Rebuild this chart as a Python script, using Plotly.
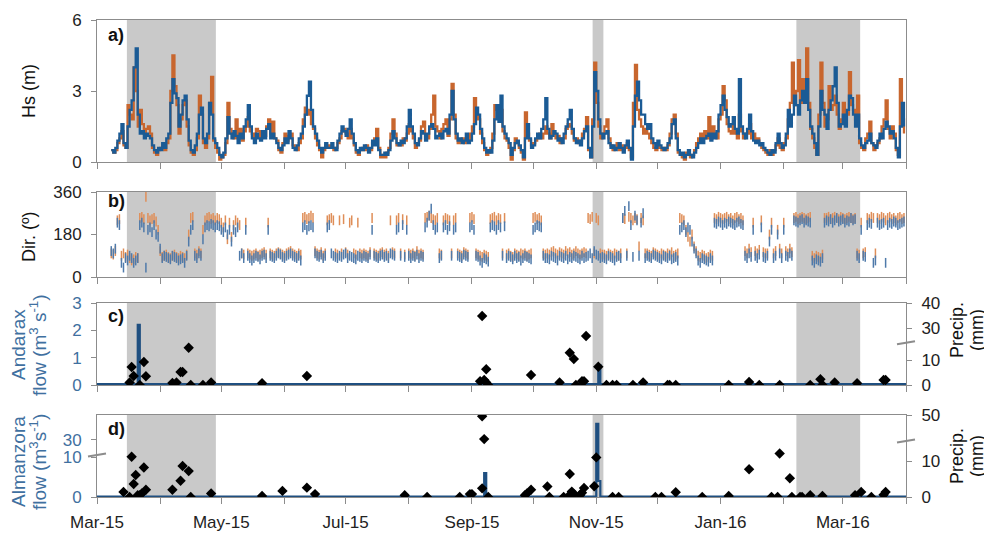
import pandas as pd
import plotly.graph_objects as go

# ---------------- DATA ----------------
HS_START = "2015-03-08"   # daily values from this date
HS_BLUE = [
    0.5, 0.4, 0.6, 0.9, 1.2, 1.6, 0.8, 0.6, 1.5, 2.2,
    2.6, 4.0, 4.8, 2.0, 1.2, 1.3, 1.0, 1.2, 1.1, 1.0,
    0.7, 0.5, 0.4, 0.6, 0.5, 0.8, 0.6, 1.0, 1.2, 2.5,
    3.5, 2.9, 2.7, 1.5, 2.0, 2.6, 2.8, 1.8, 0.9, 0.5,
    0.4, 0.7, 1.2, 2.0, 2.3, 1.0, 0.8, 1.2, 2.5, 2.0,
    1.0, 0.8, 0.6, 0.3, 0.2, 0.4, 1.0, 1.9, 1.2, 1.0,
    1.3, 1.1, 0.8, 1.2, 1.0, 1.5, 1.8, 2.4, 1.5, 1.0,
    0.8, 1.2, 1.0, 0.9, 1.3, 1.0, 1.4, 1.6, 1.0, 1.2,
    1.0, 0.8, 0.6, 0.5, 0.7, 1.0, 0.8, 1.3, 1.0, 0.6,
    0.5, 0.7, 1.0, 1.2, 1.5, 2.0, 2.8, 3.4, 2.2, 1.5,
    1.2, 0.9, 0.6, 0.4, 0.6, 0.8, 0.6, 0.6, 0.8, 0.6,
    0.5, 0.9, 1.2, 1.5, 1.3, 1.1, 1.4, 1.8, 1.2, 0.8,
    0.5, 0.4, 0.6, 0.5, 0.7, 0.6, 0.4, 0.6, 0.9, 0.7,
    1.0, 0.5, 0.3, 0.3, 0.4, 0.3, 0.5, 0.9, 1.3, 1.0,
    0.8, 0.7, 0.9, 0.8, 1.0, 1.5, 2.2, 1.5, 1.2, 0.8,
    0.7, 1.0, 1.3, 1.2, 0.9, 1.2, 1.5, 1.6, 1.4, 1.0,
    1.1, 1.2, 1.0, 1.3, 1.4, 1.2, 2.0, 3.0, 1.8, 1.2,
    0.9, 1.0, 0.8, 0.9, 1.2, 0.8, 0.9, 1.2, 1.6, 2.3,
    2.0, 1.4, 1.0, 0.6, 0.4, 0.5, 0.4, 0.9, 1.8, 2.4,
    1.7, 2.8, 1.5, 1.2, 1.0, 0.8, 0.3, 0.6, 0.8, 0.9,
    0.7, 0.5, 0.2, 1.0, 1.6, 1.0, 0.6, 0.7, 1.0, 1.2,
    1.0, 1.4, 1.8, 2.7, 1.4, 1.0, 1.1, 1.3, 1.2, 0.9,
    1.0, 0.8, 1.2, 1.5, 1.8, 2.2, 1.4, 1.0, 0.8, 0.9,
    0.7, 1.0, 1.3, 1.5, 0.6, 0.2, 1.5, 3.8, 3.0, 1.8,
    1.2, 1.0, 1.2, 1.3, 0.8, 0.6, 0.7, 0.5, 0.6, 0.8,
    0.6, 0.4, 0.7, 0.9, 0.6, 0.1, 1.5, 2.8, 3.4, 2.6,
    2.0, 2.0, 1.6, 1.4, 1.6, 1.0, 0.8, 0.6, 0.9, 0.7,
    0.6, 0.5, 0.6, 0.8, 1.0, 1.6, 1.8, 1.0, 0.5, 0.3,
    0.4, 0.2, 0.3, 0.5, 0.3, 0.2, 0.4, 0.6, 0.8, 1.0,
    0.8, 1.0, 1.1, 1.2, 0.9, 1.2, 1.0, 1.3, 2.0, 2.4,
    2.8, 2.2, 1.9, 1.5, 1.6, 1.9, 1.4, 1.2, 3.5, 1.5,
    1.2, 1.0, 1.4, 2.0, 1.3, 0.9, 0.8, 0.9, 0.7, 0.8,
    0.6, 0.5, 0.4, 0.3, 0.5, 0.4, 0.8, 1.2, 0.8, 0.6,
    0.7, 1.2, 2.2, 1.5, 2.0, 2.8, 2.4, 2.0, 2.6, 3.0,
    2.5, 3.5, 2.2, 1.5, 1.2, 0.8, 0.3, 1.5, 3.0, 2.2,
    2.0, 1.4, 2.2, 2.6, 3.2, 4.0, 2.5, 1.5, 1.6, 2.0,
    1.5, 2.2, 2.8, 2.7, 2.0, 1.5, 2.0, 1.0, 0.7, 0.6,
    0.8, 0.9, 1.2, 0.8, 0.7, 0.6, 0.9, 1.2, 1.0, 1.4,
    1.7, 1.5, 1.2, 1.3, 1.0, 0.6, 0.2, 1.5, 2.5, 1.5,
]
HS_ORANGE = [
    0.5, 0.4, 0.5, 0.8, 1.0, 1.3, 0.7, 0.6, 2.4, 2.0,
    1.8, 4.0, 3.0, 1.5, 2.2, 1.6, 1.2, 1.4, 1.5, 1.2,
    0.6, 0.4, 0.3, 0.5, 0.6, 0.7, 0.5, 0.8, 1.0, 3.0,
    4.5, 3.2, 2.4, 1.2, 1.8, 2.4, 2.6, 1.5, 0.7, 0.4,
    0.3, 0.5, 1.0, 2.8, 2.0, 0.8, 0.6, 1.0, 2.5, 3.6,
    0.9, 0.6, 0.4, 0.1, 0.2, 0.3, 0.8, 2.5, 1.4, 1.2,
    1.0, 1.8, 1.0, 1.4, 0.9, 1.3, 1.5, 1.9, 1.3, 1.2,
    1.0, 1.4, 1.3, 1.0, 1.2, 1.1, 1.5, 1.8, 1.2, 1.7,
    1.0, 0.9, 0.5, 0.4, 0.8, 1.2, 0.9, 1.1, 1.2, 0.7,
    0.6, 0.5, 0.8, 1.0, 1.8, 2.3, 2.0, 2.2, 1.6, 1.4,
    1.0, 0.7, 0.5, 0.2, 0.5, 0.7, 0.6, 0.7, 0.6, 0.5,
    0.6, 0.8, 1.0, 1.3, 1.4, 1.2, 1.0, 1.4, 1.0, 0.7,
    0.4, 0.3, 0.5, 0.6, 0.5, 0.7, 0.5, 0.5, 0.8, 1.0,
    1.4, 0.6, 0.2, 0.3, 0.2, 0.4, 0.6, 1.2, 1.8, 1.2,
    0.7, 0.8, 0.7, 1.0, 0.9, 1.2, 1.6, 1.3, 1.0, 0.6,
    0.8, 0.9, 1.5, 1.7, 1.0, 1.0, 1.4, 2.0, 2.8, 1.5,
    1.3, 1.0, 1.4, 1.6, 1.8, 1.1, 1.8, 3.3, 2.0, 1.0,
    0.8, 0.9, 1.0, 0.8, 1.0, 0.9, 1.2, 1.5, 2.7, 2.0,
    1.8, 1.2, 0.8, 0.5, 0.3, 0.4, 0.6, 1.2, 2.4, 2.2,
    2.0, 2.2, 1.3, 1.0, 0.9, 0.6, 0.1, 0.5, 1.0, 0.8,
    0.6, 0.4, 0.1, 2.1, 1.2, 0.9, 0.7, 0.8, 0.9, 1.0,
    1.2, 1.0, 1.2, 1.5, 1.2, 1.0, 1.6, 1.2, 1.0, 1.1,
    0.8, 1.0, 1.0, 1.4, 1.6, 1.5, 1.2, 0.9, 1.0, 0.8,
    0.9, 1.2, 1.4, 1.9, 0.5, 0.2, 1.8, 4.2, 2.5, 1.5,
    1.0, 1.2, 1.5, 1.8, 1.0, 0.7, 0.5, 0.6, 0.8, 0.5,
    0.7, 0.5, 0.6, 0.8, 0.5, 0.2, 2.5, 4.1, 2.2, 1.8,
    1.5, 1.2, 1.4, 1.2, 1.0, 0.8, 0.6, 0.5, 0.7, 0.6,
    0.5, 0.6, 0.5, 0.7, 1.2, 1.8, 2.0, 1.2, 0.4, 0.3,
    0.2, 0.1, 0.4, 0.3, 0.2, 0.3, 0.5, 0.8, 1.0, 1.2,
    1.0, 1.3, 1.0, 1.9, 1.0, 1.5, 1.2, 1.0, 1.8, 2.0,
    3.2, 2.6, 1.6, 1.3, 1.2, 1.6, 1.2, 1.0, 2.0, 1.3,
    1.0, 1.2, 1.2, 1.6, 1.0, 1.2, 0.9, 1.0, 0.8, 0.6,
    0.5, 0.4, 0.3, 0.5, 0.3, 0.5, 0.7, 1.0, 0.6, 0.5,
    0.8, 1.0, 1.8, 2.5, 4.2, 2.4, 3.0, 4.3, 2.5, 3.5,
    2.8, 4.8, 2.5, 1.4, 1.0, 0.6, 0.3, 2.0, 4.2, 2.5,
    1.5, 1.8, 3.2, 2.2, 2.4, 2.8, 2.0, 1.4, 1.8, 2.5,
    1.6, 2.0, 3.8, 2.4, 2.2, 1.8, 2.8, 0.8, 0.6, 0.5,
    1.0, 1.2, 1.7, 0.8, 0.5, 0.7, 0.8, 1.0, 1.5, 1.8,
    2.6, 1.4, 1.0, 1.5, 1.2, 0.5, 0.3, 3.5, 1.8, 1.2,
]
DIR_BLUE = [
    110, 100, 120, 230, 220, 60, 40, 80, 70, 90,
    80, 60, 70, 80, 220, 230, 210, 40, 200, 210,
    190, 220, 180, 170, 120, 80, 90, 85, 80, 75,
    90, 85, 80, 70, 75, 80, 60, 90, 150, 200,
    220, 90, 80, 100, 90, 160, 210, 220, 215, 225,
    220, 210, 220, 215, 200, 190, 210, 180, 200, 150,
    200, 190, 210, 90, 100, 80, 200, 90, 80, 70,
    80, 90, 85, 75, 90, 95, 80, 200, 90, 85,
    80, 90, 100, 95, 85, 80, 90, 95, 100, 90,
    85, 80, 90, 70, 210, 220, 200, 215, 220, 210,
    100, 90, 85, 95, 80, 90, 210, 220, 100, 90,
    85, 80, 90, 85, 95, 100, 80, 90, 85, 80,
    75, 90, 85, 80, 90, 85, 80, 95, 200, 90,
    85, 80, 90, 95, 85, 90, 80, 100, 95, 90,
    200, 210, 90, 220, 85, 200, 90, 80, 90, 85,
    95, 80, 90, 85, 210, 230, 260, 290, 220, 200,
    210, 80, 90, 210, 220, 200, 215, 90, 200, 210,
    90, 85, 80, 95, 90, 85, 210, 220, 200, 90,
    85, 70, 60, 80, 75, 65, 210, 220, 215, 200,
    220, 210, 90, 215, 80, 90, 85, 75, 90, 80,
    85, 70, 80, 90, 85, 80, 75, 200, 210, 220,
    215, 210, 90, 80, 80, 75, 90, 85, 80, 70,
    90, 85, 80, 90, 75, 85, 80, 90, 85, 80,
    75, 90, 80, 85, 90, 100, 80, 110, 95, 90,
    80, 85, 80, 75, 90, 85, 80, 70, 85, 90,
    80, 250, 280, 90, 300, 220, 85, 260, 240, 90,
    230, 270, 80, 90, 85, 80, 95, 90, 85, 80,
    75, 90, 85, 80, 90, 75, 80, 85, 70, 200,
    210, 220, 190, 210, 200, 150, 120, 100, 70, 60,
    80, 75, 70, 65, 80, 70, 230, 225, 235, 230,
    220, 230, 225, 235, 230, 225, 220, 230, 235, 225,
    220, 90, 80, 100, 85, 200, 90, 80, 95, 210,
    85, 80, 90, 150, 200, 80, 90, 180, 100, 80,
    200, 90, 85, 100, 90, 240, 235, 230, 240, 245,
    230, 240, 235, 230, 70, 60, 75, 70, 65, 80,
    230, 240, 235, 245, 230, 240, 250, 235, 240, 245,
    230, 240, 235, 250, 240, 245, 90, 80, 200, 90,
    85, 220, 230, 225, 60, 70, 230, 220, 225, 230,
    60, 220, 230, 225, 235, 230, 220, 225, 230, 235,
]
DIR_ORANGE = [
    100, 95, 110, 240, 245, 90, 100, 85, 95, 80,
    70, 75, 85, 80, 250, 255, 245, 340, 250, 240,
    245, 250, 235, 200, 110, 85, 90, 95, 85, 80,
    90, 95, 85, 80, 90, 85, 80, 95, 180, 250,
    255, 100, 95, 110, 100, 200, 240, 250, 255, 245,
    250, 240, 250, 245, 230, 210, 240, 160, 230, 170,
    220, 240, 230, 220, 100, 95, 230, 100, 95, 90,
    95, 100, 90, 95, 100, 105, 95, 230, 100, 95,
    90, 100, 105, 100, 95, 90, 100, 105, 110, 100,
    95, 90, 100, 95, 250, 255, 245, 250, 260, 250,
    110, 100, 95, 105, 90, 100, 240, 245, 250, 240,
    100, 95, 240, 100, 245, 105, 95, 230, 240, 100,
    95, 230, 100, 95, 100, 95, 90, 105, 250, 100,
    95, 90, 100, 105, 95, 100, 90, 240, 105, 100,
    240, 250, 100, 245, 95, 240, 100, 95, 100, 90,
    110, 95, 100, 95, 250, 255, 260, 250, 245, 240,
    250, 100, 95, 240, 250, 245, 240, 100, 240, 250,
    100, 95, 90, 105, 100, 95, 250, 255, 245, 100,
    95, 90, 85, 95, 90, 85, 245, 250, 255, 240,
    250, 245, 100, 250, 95, 100, 90, 85, 100, 95,
    90, 100, 95, 100, 90, 95, 100, 250, 255, 245,
    250, 240, 100, 95, 100, 95, 105, 110, 100, 95,
    105, 100, 95, 110, 100, 105, 95, 100, 110, 100,
    95, 100, 105, 100, 250, 245, 255, 100, 250, 240,
    100, 95, 95, 90, 100, 95, 90, 100, 95, 90,
    100, 250, 245, 100, 255, 250, 240, 250, 245, 130,
    250, 240, 100, 100, 95, 90, 105, 100, 95, 90,
    100, 95, 90, 100, 95, 105, 90, 95, 100, 250,
    245, 240, 200, 170, 150, 180, 130, 110, 90, 85,
    95, 90, 80, 85, 95, 90, 250, 245, 255, 250,
    245, 250, 255, 245, 250, 240, 250, 255, 245, 250,
    240, 110, 100, 120, 105, 230, 110, 100, 115, 240,
    105, 100, 100, 180, 230, 100, 110, 200, 120, 100,
    230, 110, 100, 120, 105, 250, 255, 245, 250, 255,
    250, 245, 250, 255, 90, 80, 90, 85, 80, 95,
    250, 250, 255, 245, 250, 255, 250, 245, 255, 250,
    245, 250, 255, 250, 245, 250, 100, 95, 230, 100,
    105, 250, 245, 255, 250, 100, 250, 245, 255, 250,
    240, 250, 255, 245, 250, 240, 250, 255, 245, 250,
]

# River flow (step series, value holds until next date)
ANDARAX_DATES = ["2015-03-01", "2015-03-21", "2015-03-22", "2015-11-02", "2015-11-03", "2016-04-01"]
ANDARAX_FLOW = [0.03, 2.2, 0.03, 0.73, 0.03, 0.03]
ALMANZORA_DATES = ["2015-03-01", "2015-09-07", "2015-09-08", "2015-11-01", "2015-11-02", "2015-11-03", "2016-04-01"]
ALMANZORA_FLOW = [0.1, 6.0, 0.1, 36.4, 4.0, 0.1, 0.1]

# Precipitation events (mm)
PRECIP_C_DATES = [
    "2015-03-17", "2015-03-18", "2015-03-19", "2015-03-22", "2015-03-24", "2015-03-25",
    "2015-04-07", "2015-04-09", "2015-04-11", "2015-04-12", "2015-04-15", "2015-04-16",
    "2015-04-22", "2015-04-26", "2015-05-21", "2015-06-12", "2015-09-05", "2015-09-06",
    "2015-09-07", "2015-09-08", "2015-09-08", "2015-09-09", "2015-09-30", "2015-10-14",
    "2015-10-19", "2015-10-21", "2015-10-22", "2015-10-25", "2015-10-26", "2015-10-27",
    "2015-11-02", "2015-11-06", "2015-11-09", "2015-11-11", "2015-11-19", "2015-11-24",
    "2015-12-06", "2015-12-07", "2015-12-10", "2016-01-05", "2016-01-15", "2016-01-20",
    "2016-01-30", "2016-02-14", "2016-02-19", "2016-02-20", "2016-02-26", "2016-03-08",
    "2016-03-21", "2016-03-22",
]
PRECIP_C = [
    1.0, 7.2, 3.6, 0.0, 9.2, 3.5,
    0.8, 1.0, 5.2, 5.2, 14.9, 0.0,
    0.0, 1.0, 0.7, 3.6, 1.5, 34.8,
    2.0, 6.3, 1.0, 0.0, 4.0, 1.0,
    12.9, 10.4, 0.0, 1.5, 1.5, 26.8,
    7.3, 0.0, 0.0, 0.0, 0.0, 1.0,
    0.0, 0.0, 0.0, 0.0, 1.2, 0.0,
    0.0, 0.0, 2.3, 0.0, 1.0, 0.7,
    2.0, 2.0,
]
PRECIP_D_DATES = [
    "2015-03-14", "2015-03-17", "2015-03-18", "2015-03-19", "2015-03-20", "2015-03-21",
    "2015-03-22", "2015-03-23", "2015-03-24", "2015-03-25", "2015-04-07", "2015-04-11",
    "2015-04-12", "2015-04-15", "2015-04-16", "2015-04-26", "2015-05-21", "2015-05-31",
    "2015-06-12", "2015-06-16", "2015-07-30", "2015-08-10", "2015-08-26", "2015-08-31",
    "2015-09-01", "2015-09-06", "2015-09-06", "2015-09-07", "2015-09-09", "2015-09-27",
    "2015-09-28", "2015-09-30", "2015-10-08", "2015-10-09", "2015-10-16", "2015-10-18",
    "2015-10-19", "2015-10-20", "2015-10-21", "2015-10-24", "2015-10-25", "2015-10-26",
    "2015-10-31", "2015-11-01", "2015-11-09", "2015-11-12", "2015-11-30", "2015-12-03",
    "2015-12-10", "2015-12-23", "2016-01-05", "2016-01-15", "2016-01-26", "2016-01-29",
    "2016-01-30", "2016-02-04", "2016-02-05", "2016-02-09", "2016-02-10", "2016-02-14",
    "2016-02-20", "2016-03-07", "2016-03-10", "2016-03-15", "2016-03-21", "2016-03-22",
]
PRECIP_D = [
    1.4, 0.0, 11.2, 3.6, 6.1, 0.5,
    0.5, 1.0, 8.2, 2.0, 2.0, 4.5,
    8.6, 7.2, 0.0, 1.0, 0.3, 1.7,
    2.6, 0.8, 0.5, 0.0, 0.0, 0.8,
    0.8, 49.0, 2.4, 27.0, 0.0, 0.5,
    1.0, 2.0, 2.9, 0.0, 0.0, 0.0,
    6.4, 1.5, 0.8, 0.5, 1.2, 2.5,
    3.0, 11.0, 0.0, 0.0, 0.0, 0.0,
    1.3, 0.0, 0.3, 7.7, 0.0, 0.0,
    12.1, 5.2, 0.0, 0.0, 0.0, 0.5,
    0.3, 0.5, 1.4, 0.0, 0.6, 1.4,
]

# Shaded periods
SHADE_PERIODS = [("2015-03-15 16:00", "2015-04-28 08:00"),
                 ("2015-10-30 05:00", "2015-11-04 12:00"),
                 ("2016-02-07 05:00", "2016-03-09 12:00")]

MONTH_TICKS = ["2015-03-01", "2015-04-01", "2015-05-01", "2015-06-01", "2015-07-01",
               "2015-08-01", "2015-09-01", "2015-10-01", "2015-11-01", "2015-12-01",
               "2016-01-01", "2016-02-01", "2016-03-01", "2016-04-01"]
MONTH_LABELS = ["Mar-15", "", "May-15", "", "Jul-15", "", "Sep-15", "", "Nov-15", "",
                "Jan-16", "", "Mar-16", ""]
X_RANGE = ["2015-03-01", "2016-04-01"]

# ---------------- broken-axis helpers ----------------
def brk(values, a, b, s1, s2):
    out = []
    for v in values:
        if v <= a:
            out.append(v * s1)
        else:
            out.append(a * s1 + max(v - b, 0) * s2)
    return out

C_R = dict(a=16.8, b=24.0, s1=2.5, s2=2.5)     # panel c precip axis
D_L = dict(a=10.4, b=23.8, s1=4.0, s2=2.5)     # panel d flow axis
D_R = dict(a=15.5, b=25.0, s1=3.6, s2=1.04)    # panel d precip axis

# ---------------- figure ----------------
FONT = "Arial, 'Liberation Sans', sans-serif"
GRAY = "#8c8c8c"
BLUE_TXT = "#3f70a0"
ORANGE = "#c8662e"
BLUE = "#1b5b95"
FLOW_COL = "#1f4f80"

hs_dates_b = pd.date_range(HS_START, periods=len(HS_BLUE), freq="D")
hs_dates_o = pd.date_range(HS_START, periods=len(HS_ORANGE), freq="D")
dir_dates_b = pd.date_range(HS_START, periods=len(DIR_BLUE), freq="D")
dir_dates_o = pd.date_range(HS_START, periods=len(DIR_ORANGE), freq="D")

fig = go.Figure()
fig.add_trace(go.Scatter(x=hs_dates_o, y=HS_ORANGE, mode="lines",
                         line=dict(color=ORANGE, width=2.3, shape="hv"), xaxis="x", yaxis="y"))
fig.add_trace(go.Scatter(x=hs_dates_b, y=HS_BLUE, mode="lines",
                         line=dict(color=BLUE, width=2.3, shape="hv"), xaxis="x", yaxis="y"))

fig.add_trace(go.Scatter(x=dir_dates_o, y=DIR_ORANGE, mode="markers",
                         marker=dict(symbol="line-ns", size=7, line=dict(width=1.5, color="#df8e58")),
                         xaxis="x2", yaxis="y2"))
fig.add_trace(go.Scatter(x=dir_dates_b, y=DIR_BLUE, mode="markers",
                         marker=dict(symbol="line-ns", size=7, line=dict(width=1.5, color="#4f7aaa")),
                         xaxis="x2", yaxis="y2"))

fig.add_trace(go.Scatter(x=ANDARAX_DATES, y=ANDARAX_FLOW, mode="lines",
                         line=dict(color=FLOW_COL, width=2.2, shape="hv"), xaxis="x3", yaxis="y3"))
fig.add_trace(go.Scatter(x=PRECIP_C_DATES, y=brk(PRECIP_C, **C_R), mode="markers",
                         marker=dict(symbol="diamond", size=8, color="black"), xaxis="x3", yaxis="y5"))

fig.add_trace(go.Scatter(x=ALMANZORA_DATES, y=brk(ALMANZORA_FLOW, **D_L), mode="lines",
                         line=dict(color=FLOW_COL, width=2.2, shape="hv"), xaxis="x4", yaxis="y4"))
fig.add_trace(go.Scatter(x=PRECIP_D_DATES, y=brk(PRECIP_D, **D_R), mode="markers",
                         marker=dict(symbol="diamond", size=8, color="black"), xaxis="x4", yaxis="y6"))

def xax(anchor, labels=False):
    return dict(anchor=anchor, domain=[0, 1], range=X_RANGE, type="date", automargin=False,
                showline=True, linecolor=GRAY, linewidth=1, mirror=True,
                ticks="outside", ticklen=6, tickcolor=GRAY,
                tickvals=MONTH_TICKS, ticktext=MONTH_LABELS,
                showticklabels=labels, showgrid=False, zeroline=False,
                tickfont=dict(size=17, color="#222"), ticklabelstandoff=4)

def yax(domain, rng, tv, tt=None, color="#222", mirror=True, side="left", overlaying=None, anchor=None):
    d = dict(domain=domain, range=rng, tickvals=tv, ticktext=tt if tt else [str(t) for t in tv],
             automargin=False,
             showline=True, linecolor=GRAY, linewidth=1, mirror=mirror, side=side,
             ticks="outside", ticklen=5, tickcolor=GRAY, showgrid=False, zeroline=False,
             tickfont=dict(size=17, color=color), ticklabelstandoff=6)
    if overlaying:
        d["overlaying"] = overlaying
        d.pop("domain")
    if anchor:
        d["anchor"] = anchor
    return d

DOM_A = [0.7023, 1.0]
DOM_B = [0.4612, 0.6394]
DOM_C = [0.2348, 0.4067]
DOM_D = [0.0, 0.1719]

# page body has an 8px default margin: figure covers screen 8..992 x 8..534,
# plot area lands at x 97..906, y 20..497 on screen
fig.update_layout(
    width=984, height=526,
    margin=dict(l=89, r=86, t=12, b=37, autoexpand=False),
    paper_bgcolor="white", plot_bgcolor="white",
    showlegend=False,
    font=dict(family=FONT, size=17, color="#222"),
    xaxis=xax("y"), xaxis2=xax("y2"), xaxis3=xax("y3"), xaxis4=xax("y4", labels=True),
    yaxis=yax(DOM_A, [0, 6], [0, 3, 6], anchor="x"),
    yaxis2=yax(DOM_B, [0, 360], [0, 180, 360], anchor="x2"),
    yaxis3=yax(DOM_C, [0, 3], [0, 1, 2, 3], color=BLUE_TXT, mirror=False, anchor="x3"),
    yaxis4=yax(DOM_D, [0, 82], brk([0, 10, 30, 40], **D_L), ["0", "10", "30", "40"],
               color=BLUE_TXT, mirror=False, anchor="x4"),
    yaxis5=yax(None, [0, 82], brk([0, 10, 30, 40], **C_R), ["0", "10", "30", "40"],
               mirror=False, side="right", overlaying="y3", anchor="x3"),
    yaxis6=yax(None, [0, 82], brk([0, 10, 50], **D_R), ["0", "10", "50"],
               mirror=False, side="right", overlaying="y4", anchor="x4"),
)

shapes = []
for xr, yr in [("x", "y"), ("x2", "y2"), ("x3", "y3"), ("x4", "y4")]:
    for s, e in SHADE_PERIODS:
        shapes.append(dict(type="rect", xref=xr, yref=yr + " domain", x0=s, x1=e, y0=0, y1=1,
                           fillcolor="#c9c9c9", line=dict(width=0), layer="below"))
# axis break marks
PLOT_W = 809.0
for xc, yref, yc in [(1.0, "y5", brk([16.8], **C_R)[0]),
                     (0.0, "y4", brk([10.4], **D_L)[0]),
                     (1.0, "y6", brk([15.5], **D_R)[0])]:
    shapes.append(dict(type="line", xref="paper", yref=yref,
                       x0=xc - 9 / PLOT_W, x1=xc + 9 / PLOT_W, y0=yc - 1.2, y1=yc + 1.8,
                       line=dict(color=GRAY, width=2)))
fig.update_layout(shapes=shapes)

def px_x(p):
    return (p - 97) / PLOT_W

def px_y(p):
    return (497 - p) / 477.0

def label(text, xp, yp, size, color, angle=-90, xanchor="center"):
    return dict(text=text, x=px_x(xp), y=px_y(yp), xref="paper", yref="paper",
                textangle=angle, xanchor=xanchor, yanchor="middle", showarrow=False,
                font=dict(size=size, color=color))

ann = []
for lab, yp in [("a)", 35), ("b)", 201), ("c)", 316), ("d)", 429)]:
    ann.append(label("<b>" + lab + "</b>", 106, yp, 18, "#111", angle=0, xanchor="left"))
ann.append(label("Hs (m)", 29, 91, 18, "#111"))
ann.append(label("Dir. (º)", 29, 237, 18, "#111"))
ann.append(label("Andarax", 18, 345, 19, BLUE_TXT))
ann.append(label("flow (m<sup>3</sup> s<sup>-1</sup>)", 38, 345, 19, BLUE_TXT))
ann.append(label("Almanzora", 18, 462, 19, BLUE_TXT))
ann.append(label("flow (m<sup>3</sup>s<sup>-1</sup>)", 38, 462, 19, BLUE_TXT))
for yp in (330, 456):
    ann.append(label("Precip.", 957, yp, 18, "#111"))
    ann.append(label("(mm)", 977, yp, 18, "#111"))
fig.update_layout(annotations=ann)

fig.write_html("out.html")
